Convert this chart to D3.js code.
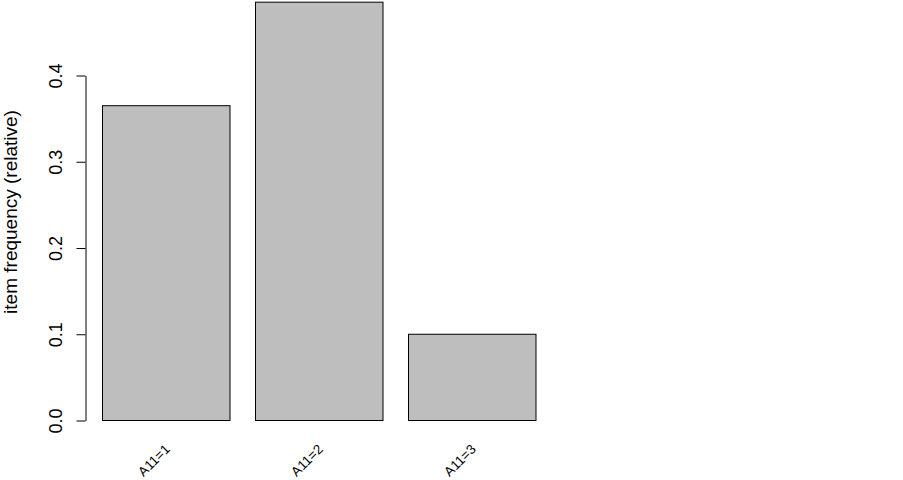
<!DOCTYPE html>
<html>
<head>
<meta charset="utf-8">
<script src="https://cdn.jsdelivr.net/npm/d3@7"></script>
<style>
  html, body { margin: 0; padding: 0; background: #fff; }
  svg { display: block; }
  text { font-family: "Liberation Sans", Arial, sans-serif; fill: #000; }
</style>
</head>
<body>
<svg id="chart" width="903" height="480"></svg>
<script>
const categories = ["A11=1", "A11=2", "A11=3"];
const values = [0.365, 0.485, 0.100];
const yTicks = [0.0, 0.1, 0.2, 0.3, 0.4];
const yTickLabels = ["0.0", "0.1", "0.2", "0.3", "0.4"];
const yTitle = "item frequency (relative)";

const svg = d3.select("#chart");

const x = d3.scaleBand()
  .domain(categories)
  .range([102, 535.5])
  .paddingInner(1 / 6)
  .paddingOuter(0);

const y = d3.scaleLinear().domain([0, 0.4]).range([420, 75]);

// bars
svg.append("g").selectAll("rect")
  .data(categories.map((c, i) => ({ c, v: values[i] })))
  .join("rect")
  .attr("x", d => x(d.c) + 0.5)
  .attr("y", d => y(d.v) + 0.5)
  .attr("width", x.bandwidth())
  .attr("height", d => y(0) - y(d.v))
  .attr("fill", "#bebebe")
  .attr("stroke", "#000")
  .attr("stroke-width", 1);

// y axis
const yAxis = d3.axisLeft(y)
  .tickValues(yTicks)
  .tickFormat((d, i) => yTickLabels[i])
  .tickSize(9)
  .tickPadding(6)
  .tickSizeOuter(0);

const gy = svg.append("g")
  .attr("transform", "translate(85.5,0.5)")
  .call(yAxis);
gy.select(".domain").attr("stroke", "#000");
gy.selectAll(".tick line").attr("stroke", "#000");
gy.selectAll(".tick text")
  .attr("font-size", "18px")
  .attr("text-anchor", "middle")
  .attr("transform", "rotate(-90)")
  .attr("x", 0)
  .attr("dy", 0)
  .attr("y", -23.5)
  .attr("fill", "#000");

// y title
svg.append("text")
  .attr("transform", "translate(17,212) rotate(-90)")
  .attr("text-anchor", "middle")
  .attr("font-size", "19px")
  .text(yTitle);

// category labels
svg.append("g").selectAll("text")
  .data(categories)
  .join("text")
  .attr("transform", d => `translate(${x(d) + x.bandwidth() / 2 + 5},450) rotate(-45)`)
  .attr("text-anchor", "end")
  .attr("font-size", "13.5px")
  .text(d => d);
</script>
</body>
</html>
